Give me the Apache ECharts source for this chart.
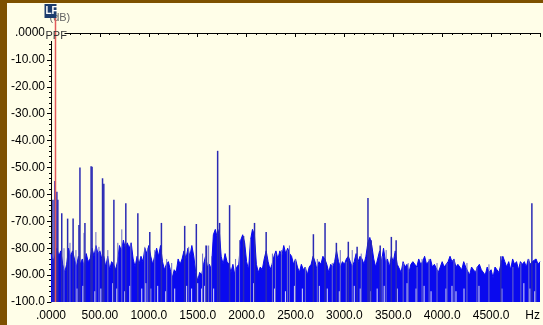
<!DOCTYPE html>
<html><head><meta charset="utf-8">
<script src="https://cdn.jsdelivr.net/npm/echarts@6/dist/echarts.min.js"></script>
<style>html,body{margin:0;padding:0;background:#fffee8;}#c{width:543px;height:325px;}</style>
</head><body><div id="c"></div>
<script>
// Spectrum noise floor, one value every 20 Hz starting at 0 Hz (dB)
var noiseStepHz = 20;
var noise = [
 -82,-85,-83, -80,-83,-81, -86,-89,-86, -80,-83,-81, -84,-87,
 -83,-86,-84,-87,-82,-85,-84, -80,-83,-79,-82,-81,-84,
 -83,-87,-83,-88,-85, -86,-88,-85, -79,-81,-77,-80,-78, -80,-78, -84,-87,
 -83,-86,-83,-85, -80,-82,-79, -83,-86,-83, -80,-83,-79,
 -85,-88,-86,-85, -88,-91,-88,-89, -84,-86,-84, -81,-84,-80,-83, -79,-83,
 -89,-92,-89,-90, -86,-83,-87, -86,-88, -75,-73,-76, -73,
 -83,-86,-82,-85, -86,-89,-86,-90,-87,-86, -77,-75,-78, -85,-88,
 -77,-73,-75, -86,-89,-87,-88, -84,-81, -85,-88,-86, -83,-81,-84, -81,-83,
 -79,-82,-80,-82, -83,-86,-84, -87,-89,-86,-88,-87,-90,-87, -86,-83,
 -85,-88,-85,-86, -83, -84,-86,-89,-86,-87, -85,-81,-85,-87,-85,
 -86,-84,-83, -85,-87,-85, -82,-85,-83, -84,-86,-83, -78,-76,-79,
 -84,-87,-84,-81, -85,-80,-85, -84,-87,-83, -85,-81,-86,
 -86,-89,-85,-87,-86,-89,-86,-85,
 -85,-87,-84,-86,-85,-83,-86,-85,-84,-87,-86,
 -86,-89,-87,-85,-87,-86,-85,-83,-85, -84,-87,-86,
 -87,-88,-85,-87,-87,-90,-87,-88,-89,-87,-86,-88,
 -88,-90,-87,-89,-88,-91,-87,-88,-89,-86,-83,
 -85,-87,-85,-88,-84,-86,-85,-88,-85,-86,-85,-87,
 -84,-86,-85,-85,-84,-86,-85
];
// Main spectral peaks
var peakHz = [20,40,60,70,110,170,226,286,296,347,410,420,527,540,643,765,888,1010,1129,1367,1486,1590,1704,1724,1826,1969,2081,2200,2683,2802,2918,3040,3130,3241,3254,3274,3366,3480,3529,4600,4917];
var peakDb = [-62,-55,-59,-62,-67,-69,-69,-71.4,-50,-70.6,-49.5,-49.7,-54,-56,-62,-63.3,-67,-74,-70.6,-71.7,-71,-79,-43.8,-70.6,-64,-75.5,-70.6,-74,-74.8,-70.6,-78,-77.6,-79.5,-61.3,-77,-77,-79,-75.8,-77,-83,-63.3];
// Smaller secondary spikes
var spikeHz = [133,194,255,337,459,490,581,683,724,816,959,989,1061,1183,1234,1408,1550,1581,1612,1642,1887,1928,2040,2264,2295,2356,2417,2438,2499,2601,2723,2876,2958,3019,3080,3172,3386,3427,3601,3652,3743,3794,3866,3947,4049,4121,4253,4355,4478,4723,4804,4886,4957];
var spikeDb = [-80,-78,-80.7,-74.3,-74,-79.5,-80.7,-78,-73,-78,-79.5,-80,-80.7,-84,-85.5,-79.5,-82,-79,-79,-83,-84,-77,-76.5,-82,-82,-80.7,-80.7,-79,-84,-87,-84,-85.5,-80.7,-85,-80.7,-82,-83,-80.7,-85.5,-85.5,-87,-84,-84,-85.5,-85.5,-84,-85.5,-87,-86,-87,-85.5,-84,-85.5];
// Deep notches in the noise floor [Hz] and the level they reach (dB)
var notchHz = [265,326,449,510,632,673,755,806,928,969,1020,1091,1173,1265,1387,1438,1500,1540,1571,1663,2071,2285,2397,2489,2570,2744,2825,2948,3101,3162,3264,3335,3407,3540,3641,3733,3815,3886,4039,4100,4141,4223,4376,4610,4835,4896,4947];
var notchDb = [-95,-94,-96,-95,-93,-95,-96,-94,-95,-93,-95,-94,-96,-95,-94,-95,-93,-95,-94,-95,-93,-95,-96,-94,-95,-94,-95,-96,-94,-95,-96,-95,-94,-95,-93,-95,-94,-96,-95,-94,-96,-95,-94,-95,-93,-95,-96];
var cursorHz = 46;
var xTicks = ['.0000','500.00','1000.0','1500.0','2000.0','2500.0','3000.0','3500.0','4000.0','4500.0','Hz'];
var yTicks = ['.0000','-10.00','-20.00','-30.00','-40.00','-50.00','-60.00','-70.00','-80.00','-90.00','-100.0'];

var noiseData = noise.map(function(v,i){return [i*noiseStepHz, v];});
function pairs(a,b){return a.map(function(f,i){return [f,b[i]];});}

function stemSeries(data,color,width,z){
  return {type:'custom',data:data,z:z,
    renderItem:function(params,api){
      var top=api.coord([api.value(0),api.value(1)]);
      var bot=api.coord([api.value(0),-100]);
      return {type:'line',shape:{x1:top[0],y1:top[1],x2:bot[0],y2:bot[1]},
        style:{stroke:color,lineWidth:width}};
    }};
}

var chart = echarts.init(document.getElementById('c'));
var font = 'Liberation Sans, Arial, sans-serif';
chart.setOption({
  animation:false,
  backgroundColor:'#fffee8',
  grid:{left:51,right:2,top:33,bottom:23},
  xAxis:{type:'value',min:0,max:5000,interval:500,
    axisLine:{lineStyle:{color:'#000',width:1}},
    axisTick:{show:true,length:4,lineStyle:{color:'#000'}},
    minorTick:{show:true,splitNumber:5,length:2,lineStyle:{color:'#000'}},
    splitLine:{show:false},
    axisLabel:{margin:8,color:'#000',fontSize:12,fontFamily:font,alignMaxLabel:'right',
      formatter:function(v){return xTicks[Math.round(v/500)];}}},
  yAxis:{type:'value',min:-100,max:0,interval:10,
    axisLine:{show:true,lineStyle:{color:'#000',width:1}},
    axisTick:{show:true,length:4,lineStyle:{color:'#000'}},
    minorTick:{show:true,splitNumber:5,length:2,lineStyle:{color:'#000'}},
    splitLine:{show:false},
    axisLabel:{margin:6,color:'#000',fontSize:12,fontFamily:font,
      formatter:function(v){return yTicks[Math.round(-v/10)];}}},
  series:[
    {type:'line',data:noiseData,showSymbol:false,symbol:'none',
      lineStyle:{color:'#0a0aee',width:1},
      areaStyle:{color:'#0a0aee',opacity:1,origin:'start'},z:2},
    stemSeries(pairs(notchHz,notchDb),'#dcdcf6',1,3),
    stemSeries(pairs(spikeHz,spikeDb),'#6c6cc8',1,4),
    stemSeries(pairs(peakHz,peakDb),'#2a2ab4',1.5,5)
  ],
  graphic:[
    {type:'rect',shape:{x:0,y:0,width:543,height:3},style:{fill:'#7e5100'},z:100},
    {type:'rect',shape:{x:0,y:0,width:7,height:325},style:{fill:'#7e5100'},z:100}
  ]
});
// cursor marker, positioned through the axis scale
var cx = chart.convertToPixel({gridIndex:0},[cursorHz,0]);
var cb = chart.convertToPixel({gridIndex:0},[cursorHz,-100]);
chart.setOption({graphic:[
  {type:'rect',shape:{x:0,y:0,width:543,height:3},style:{fill:'#7e5100'},z:100},
  {type:'rect',shape:{x:0,y:0,width:7,height:325},style:{fill:'#7e5100'},z:100},
  {type:'rect',shape:{x:cx[0]-11,y:29,width:20,height:12},style:{fill:'#fffee8'},z:50},
  {type:'text',x:cx[0]-6,y:12,style:{text:'(dB)',fill:'#666',font:'11px '+font,textVerticalAlign:'top',textAlign:'left'},z:51},
  {type:'line',shape:{x1:cx[0],y1:17,x2:cb[0],y2:cb[1]},style:{stroke:'#e35a5a',lineWidth:1.5},z:52},
  {type:'rect',shape:{x:cx[0]-11,y:4,width:12,height:14},style:{fill:'#1d3d6e'},z:53},
  {type:'text',x:cx[0]-10,y:6,style:{text:'LF',fill:'#fff',font:'bold 10px '+font,textVerticalAlign:'top',textAlign:'left'},z:54},
  {type:'text',x:cx[0]-10,y:30,style:{text:'PPF',fill:'#333',font:'11px '+font,textVerticalAlign:'top',textAlign:'left'},z:54}
]}, {replaceMerge:['graphic']});
</script></body></html>
